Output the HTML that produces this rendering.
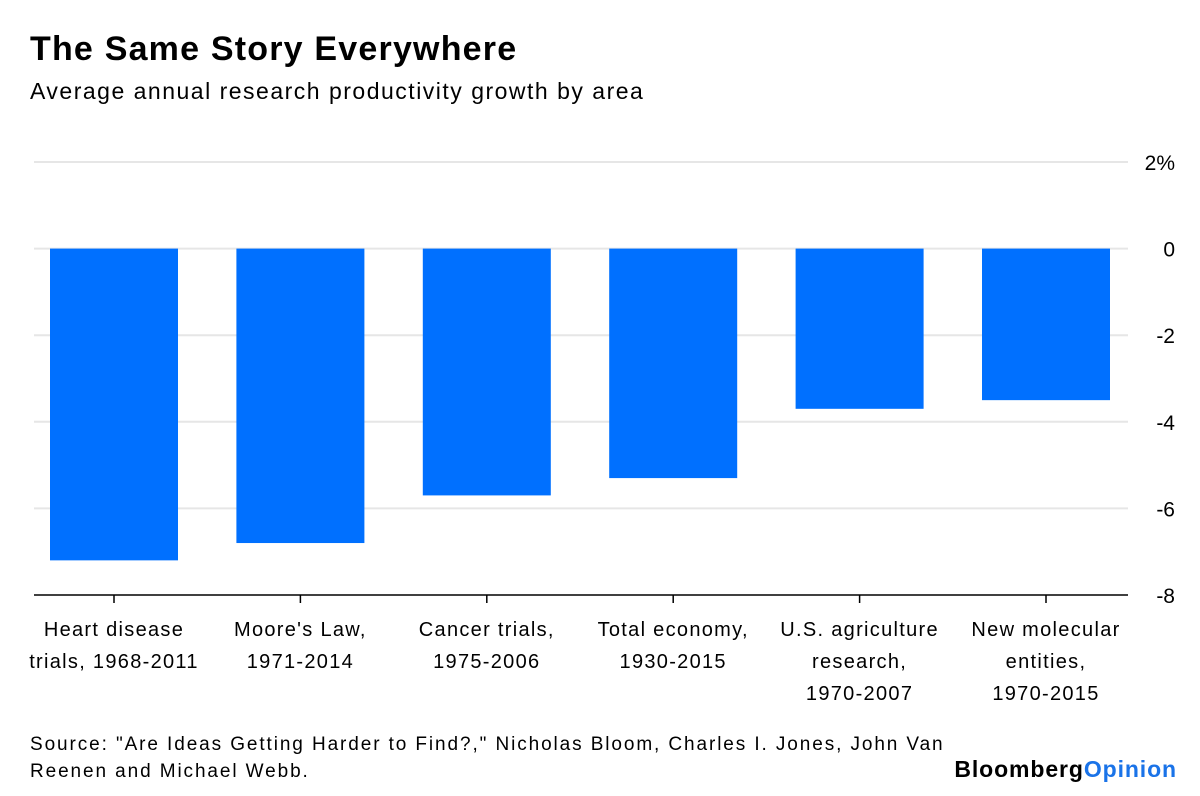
<!DOCTYPE html>
<html><head><meta charset="utf-8"><style>
body{margin:0;width:1200px;height:796px;background:#fff;overflow:hidden;font-family:"Liberation Sans",sans-serif;}
svg{position:absolute;left:0;top:0}
</style></head><body>
<svg id="c" width="1200" height="796">
<text x="30" y="60" font-size="34" font-weight="bold" letter-spacing="1.2" fill="#000">The Same Story Everywhere</text>
<text x="30" y="99" font-size="23" letter-spacing="1.5" fill="#000">Average annual research productivity growth by area</text>
<text x="30" y="750" font-size="19" letter-spacing="1.9" fill="#000">Source: "Are Ideas Getting Harder to Find?," Nicholas Bloom, Charles I. Jones, John Van</text>
<text x="30" y="777" font-size="19" letter-spacing="1.9" fill="#000">Reenen and Michael Webb.</text>
<text x="1177" y="777" font-size="23" font-weight="bold" text-anchor="end" letter-spacing="0.9"><tspan fill="#000">Bloomberg</tspan><tspan fill="#1a73e8">Opinion</tspan></text>
<g id="plot"></g>
</svg>
<script>
const categories=[["Heart disease","trials, 1968-2011"],["Moore's Law,","1971-2014"],["Cancer trials,","1975-2006"],["Total economy,","1930-2015"],["U.S. agriculture","research,","1970-2007"],["New molecular","entities,","1970-2015"]];
const values=[-7.2,-6.8,-5.7,-5.3,-3.7,-3.5];
const yTicks=[2,0,-2,-4,-6,-8];
const yTickLabels=["2%","0","-2","-4","-6","-8"];
const NS="http://www.w3.org/2000/svg";
const g=document.getElementById('plot');
const x0=34,x1=1128,yTop=162,yBot=595,vMax=2,vMin=-8;
function y(v){return yTop+(vMax-v)/(vMax-vMin)*(yBot-yTop);}
const bandStart=20.8,band=186.4;
function xc(i){return bandStart+band*(i+0.5);}
function mk(t,a){const e=document.createElementNS(NS,t);for(const k in a)e.setAttribute(k,a[k]);g.appendChild(e);return e;}
yTicks.forEach((v,i)=>{
  if(v!==vMin){const l=mk('line',{x1:x0,x2:x1,y1:y(v),y2:y(v),stroke:'#e6e6e6','stroke-width':2});
  
  }
  const t=mk('text',{x:1175,y:y(v)+8,'font-size':21,'text-anchor':'end',fill:'#000'});
  t.textContent=yTickLabels[i];
  
  
});
values.forEach((v,i)=>{
  const w=128;
  const r=mk('rect',{x:xc(i)-w/2,y:y(0),width:w,height:y(v)-y(0),fill:'#0070ff'});
  
  
});
const ax=mk('line',{x1:x0,x2:x1,y1:yBot,y2:yBot,stroke:'#000','stroke-width':1.5});


categories.forEach((c,i)=>{
  const tk=mk('line',{x1:xc(i),x2:xc(i),y1:yBot,y2:yBot+8,stroke:'#000','stroke-width':1.5});
  
  
  c.forEach((s,j)=>{
    const t=mk('text',{x:xc(i),y:636+j*32,'font-size':20,'letter-spacing':1.3,'text-anchor':'middle',fill:'#000'});
    t.textContent=s;
    
    
  });
});
</script>
</body></html>
